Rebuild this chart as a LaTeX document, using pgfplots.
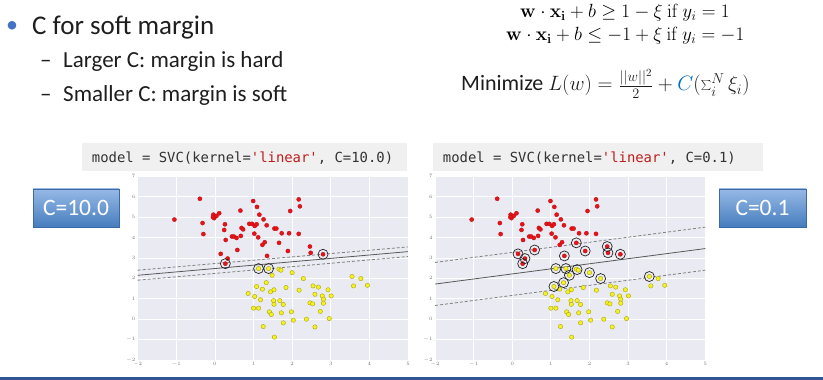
\documentclass[border=0pt]{standalone}
\usepackage[no-math]{fontspec}
\setmainfont{Carlito}
\newfontfamily\codefont{DejaVu Sans Mono}
\usepackage{pgfplots}
\pgfplotsset{compat=1.18}
\definecolor{bg}{RGB}{234,234,242}
\definecolor{redpt}{RGB}{230,20,25}
\definecolor{rededge}{RGB}{190,10,15}
\definecolor{yelpt}{RGB}{245,242,30}
\definecolor{yeledge}{RGB}{170,165,20}
\definecolor{txt}{RGB}{30,30,30}
\definecolor{bulletc}{RGB}{68,114,196}
\definecolor{codebg}{RGB}{240,240,240}
\definecolor{codetxt}{RGB}{50,50,50}
\definecolor{codered}{RGB}{190,30,30}
\definecolor{Cblue}{RGB}{0,112,192}
\definecolor{btop}{RGB}{150,185,230}
\definecolor{bbot}{RGB}{70,125,190}
\definecolor{bedge}{RGB}{60,105,165}
\definecolor{barblue}{RGB}{47,85,151}

\pgfplotstableread{
x y
-1.05 4.88
-0.39 5.90
-0.32 4.71
-0.30 4.17
-0.04 5.12
-0.02 4.95
0.04 5.06
0.11 5.19
-0.05 5.00
0.15 3.20
0.26 4.65
0.24 4.37
0.28 3.88
0.33 2.97
0.27 2.72
0.44 4.05
0.49 4.05
0.56 3.98
0.58 3.39
0.67 4.08
0.69 4.47
0.73 4.40
0.66 5.32
0.89 4.67
0.96 4.67
0.99 5.79
1.03 4.57
1.08 4.65
1.09 5.50
1.15 5.12
1.02 4.19
1.12 4.01
1.26 4.89
1.23 3.64
1.29 3.77
1.34 4.60
1.35 3.10
1.54 4.44
1.59 4.44
1.66 3.74
1.73 4.21
1.89 3.34
1.92 4.21
1.95 5.30
2.17 5.87
2.20 5.53
2.17 4.18
2.46 3.56
2.48 3.25
2.80 3.18
}\reddata

\pgfplotstableread{
x y
1.13 2.48
1.39 2.48
1.48 2.15
1.66 2.45
1.71 2.40
2.00 2.28
2.29 1.99
1.33 1.79
1.08 1.60
1.23 1.47
0.86 1.26
1.03 1.11
1.18 0.95
1.44 1.34
1.53 1.44
1.84 1.55
2.18 1.42
2.54 1.63
2.68 1.57
2.59 1.22
2.93 1.44
2.78 1.14
3.01 1.14
2.81 0.98
2.81 0.78
2.46 0.80
2.53 0.75
2.73 0.38
2.96 0.03
2.59 -0.38
2.37 0.00
2.03 -0.05
1.98 0.36
1.72 0.31
1.77 -0.18
1.53 0.73
1.52 0.91
1.68 0.91
1.77 0.72
1.41 0.36
1.46 0.23
1.13 0.54
1.00 0.54
1.25 -0.36
1.54 -0.88
3.55 2.09
3.59 1.63
3.78 1.99
3.95 1.66
}\yeldata

\pgfplotstableread{
x y
0.27 2.72
1.13 2.48
1.39 2.48
2.80 3.18
}\svleft

\pgfplotstableread{
x y
0.15 3.20
0.33 2.97
0.27 2.72
0.58 3.39
1.35 3.10
1.66 3.74
1.89 3.34
2.46 3.56
2.48 3.25
2.80 3.18
1.13 2.48
1.39 2.48
1.48 2.15
1.68 2.43
2.00 2.28
2.29 1.99
1.08 1.60
1.33 1.79
3.55 2.09
}\svright

\pgfplotsset{svmax/.style={
  scale only axis, width=270.3pt, height=183.7pt,
  xmin=-2, xmax=5, ymin=-2, ymax=7,
  axis background/.style={fill=bg},
  axis line style={draw=none},
  xmajorgrids, ymajorgrids,
  major grid style={white, line width=0.8pt},
  xtick={-2,...,5}, ytick={-2,...,7},
  major tick length=0pt,
  tick label style={font=\fontsize{4.5}{5}\selectfont, text=black!55},
  xticklabel style={yshift=1pt},
  yticklabel style={xshift=1pt},
}}
\pgfplotsset{redpts/.style={only marks, mark=*, mark size=2.1pt, mark options={fill=redpt, draw=rededge, line width=0.3pt}},
  yelpts/.style={only marks, mark=*, mark size=2.2pt, mark options={fill=yelpt, draw=yeledge, line width=0.4pt}},
  svpts/.style={only marks, mark=o, mark size=5pt, mark options={draw=black!85, line width=0.7pt}},
  solidl/.style={black!65, line width=0.8pt, no marks},
  dashl/.style={black!50, line width=0.8pt, dash pattern=on 3pt off 2pt, no marks}}

\begin{document}
\begin{tikzpicture}[x=1pt,y=1pt]
\useasboundingbox (0,0) rectangle (823,380);
% bottom bar
\fill[barblue] (0,0) rectangle (823,3);
% bullets
\node[text=bulletc, font=\fontsize{24}{28}\selectfont, anchor=base west, inner sep=0] at (6,347) {•};
\node[text=txt, font=\fontsize{27}{32}\selectfont, anchor=base west, inner sep=0] at (32,345.5) {C for soft margin};
\node[text=txt, font=\fontsize{23}{27}\selectfont, anchor=base west, inner sep=0] at (40,312.3) {–};
\node[text=txt, font=\fontsize{23}{27}\selectfont, anchor=base west, inner sep=0] at (63,312.3) {Larger C: margin is hard};
\node[text=txt, font=\fontsize{23}{27}\selectfont, anchor=base west, inner sep=0] at (40,278.5) {–};
\node[text=txt, font=\fontsize{23}{27}\selectfont, anchor=base west, inner sep=0] at (63,278.5) {Smaller C: margin is soft};
% equations
\node[text=black, font=\fontsize{17.28}{20}\selectfont, anchor=base west, inner sep=0, scale=1.105, transform shape] at (520,362.8) {$\mathbf{w}\cdot\mathbf{x_i}+b\ge 1-\xi\ \mathrm{if}\ y_i=1$};
\node[text=black, font=\fontsize{17.28}{20}\selectfont, anchor=base west, inner sep=0, scale=1.105, transform shape] at (506,339.3) {$\mathbf{w}\cdot\mathbf{x_i}+b\le -1+\xi\ \mathrm{if}\ y_i=-1$};
\node[text=txt, font=\fontsize{22}{26}\selectfont, anchor=base west, inner sep=0] at (461,289) {Minimize $L(w)=\frac{||w||^2}{2}+{\color{Cblue}C}(\sum_i^N\xi_i)$};
% code boxes
\fill[codebg] (82,209) rectangle (407,237);
\node[text=codetxt, font=\codefont\fontsize{13.9}{16}\selectfont, anchor=base west, inner sep=0] at (91.7,217) {model = SVC(kernel={\color{codered}'linear'}, C=10.0)};
\fill[codebg] (433,209) rectangle (763,237);
\node[text=codetxt, font=\codefont\fontsize{13.9}{16}\selectfont, anchor=base west, inner sep=0] at (442.7,217) {model = SVC(kernel={\color{codered}'linear'}, C=0.1)};
% C boxes
\shade[top color=btop, bottom color=bbot, draw=bedge, line width=0.8pt] (33,153) rectangle (119,191);
\node[text=white, font=\fontsize{23.5}{28}\selectfont] at (76,172) {C=10.0};
\shade[top color=btop, bottom color=bbot, draw=bedge, line width=0.8pt] (719,153) rectangle (806,191);
\node[text=white, font=\fontsize{23.5}{28}\selectfont] at (762.5,172) {C=0.1};
% left plot
\begin{axis}[svmax, at={(137.7pt,20pt)}, anchor=south west]
\addplot[solidl] coordinates {(-2,2.15) (5,3.31)};
\addplot[dashl] coordinates {(-2,2.40) (5,3.54)};
\addplot[dashl] coordinates {(-2,1.91) (5,3.07)};
\addplot[redpts] table {\reddata};
\addplot[yelpts] table {\yeldata};
\addplot[svpts] table {\svleft};
\end{axis}
% right plot
\begin{axis}[svmax, at={(435pt,20pt)}, anchor=south west]
\addplot[solidl] coordinates {(-2,1.72) (5,3.46)};
\addplot[dashl] coordinates {(-2,2.78) (5,4.51)};
\addplot[dashl] coordinates {(-2,0.67) (5,2.40)};
\addplot[redpts] table {\reddata};
\addplot[yelpts] table {\yeldata};
\addplot[svpts] table {\svright};
\end{axis}
\end{tikzpicture}
\end{document}
